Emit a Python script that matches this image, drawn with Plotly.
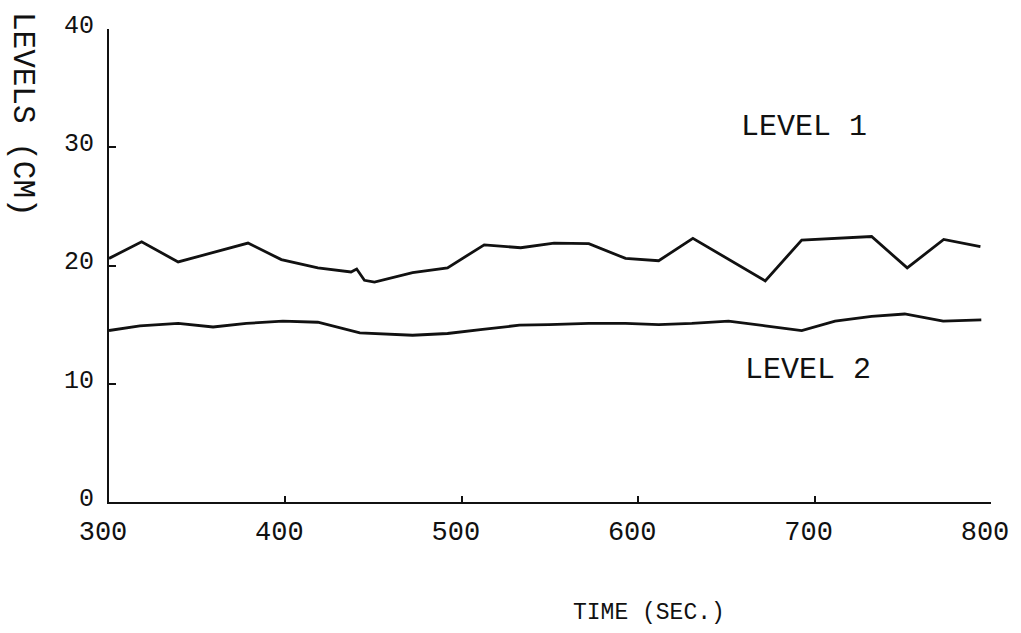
import plotly.graph_objects as go

# Level 1 readings
time_1 = [300, 318.5, 339.2, 378.8, 397.7, 418.4, 437.2, 440.4, 444.8, 450.5,
          472.1, 491.9, 512.7, 533.4, 552.3, 572, 592.8, 611.6, 631, 672,
          692.7, 732.3, 752.5, 773.2, 794]
level_1 = [20.6, 22.0, 20.3, 21.9, 20.5, 19.8, 19.45, 19.7, 18.75, 18.6,
           19.4, 19.8, 21.75, 21.5, 21.9, 21.85, 20.6, 20.4, 22.3, 18.7,
           22.15, 22.45, 19.8, 22.2, 21.6]

# Level 2 readings
time_2 = [300, 317.5, 339.2, 359, 377.9, 398.6, 418.4, 442.2, 472.1, 491.9,
          511.8, 532.7, 549.4, 572, 592.8, 611.6, 630.4, 651.2, 672, 692.7,
          711.6, 732.3, 751.1, 772.9, 794.5]
level_2 = [14.5, 14.9, 15.1, 14.8, 15.1, 15.3, 15.2, 14.3, 14.1, 14.25,
           14.6, 14.95, 15.0, 15.1, 15.1, 15.0, 15.1, 15.3, 14.9, 14.5,
           15.3, 15.7, 15.9, 15.3, 15.4]

x_ticks = [300, 400, 500, 600, 700, 800]
y_ticks = [0, 10, 20, 30, 40]

FONT = "Liberation Mono"
INK = "#111111"

fig = go.Figure()
fig.add_trace(go.Scatter(x=time_1, y=level_1, mode="lines",
                         line=dict(color=INK, width=2.8), showlegend=False))
fig.add_trace(go.Scatter(x=time_2, y=level_2, mode="lines",
                         line=dict(color=INK, width=2.8), showlegend=False))

fig.update_layout(
    width=1021, height=633,
    margin=dict(l=109, r=28, t=16, b=131),
    paper_bgcolor="white", plot_bgcolor="white",
    font=dict(family=FONT, color=INK),
    xaxis=dict(range=[300, 800], tickvals=x_ticks, ticktext=[str(v) for v in x_ticks],
               showgrid=False, zeroline=False, showline=True, linecolor=INK, linewidth=2,
               ticks="inside", ticklen=6, tickwidth=1.5, tickcolor=INK,
               tickfont=dict(family=FONT, size=27, color=INK),
               ticklabelstandoff=4, ticklabelshift=-6, ticklabeloverflow="allow"),
    yaxis=dict(range=[0, 40], tickvals=y_ticks, ticktext=[str(v) for v in y_ticks],
               showgrid=False, zeroline=False, showline=True, linecolor=INK, linewidth=2,
               ticks="inside", ticklen=7, tickwidth=1.5, tickcolor=INK,
               tickfont=dict(family=FONT, size=25, color=INK),
               ticklabelstandoff=8, ticklabelshift=-5, ticklabeloverflow="allow"),
)

fig.add_annotation(text="LEVEL 1", x=694, y=31.75, xref="x", yref="y", showarrow=False,
                   xanchor="center", yanchor="middle",
                   font=dict(family=FONT, size=30, color=INK))
fig.add_annotation(text="LEVEL 2", x=696.5, y=11.2, xref="x", yref="y", showarrow=False,
                   xanchor="center", yanchor="middle",
                   font=dict(family=FONT, size=30, color=INK))
fig.add_annotation(text="TIME (SEC.)", x=0.612, y=-0.234, xref="paper", yref="paper",
                   showarrow=False, xanchor="center", yanchor="middle",
                   font=dict(family=FONT, size=23, color=INK))
fig.add_annotation(text="LEVELS (CM)", x=-0.0973, y=0.82, xref="paper", yref="paper",
                   showarrow=False, textangle=90, xanchor="center", yanchor="middle",
                   font=dict(family=FONT, size=31, color=INK))

fig.write_html("out.html", config={"displayModeBar": False},
               post_script="document.body.style.margin='0';")
